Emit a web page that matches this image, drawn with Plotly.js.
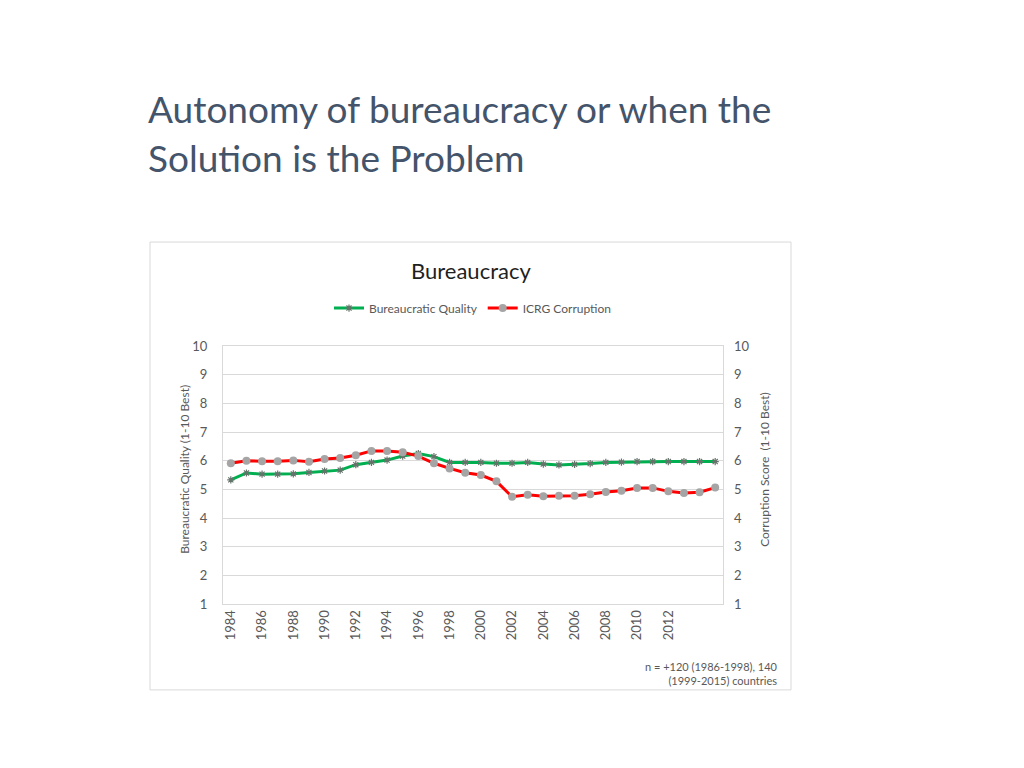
<!DOCTYPE html>
<html>
<head>
<meta charset="utf-8">
<script src="https://cdn.plot.ly/plotly-3.0.1.min.js"></script>
<style>
  body { margin: 0; background: #fff; }
  #chart { width: 1024px; height: 768px; }
</style>
</head>
<body>
<div id="chart"></div>
<script>
var years = [1984, 1985, 1986, 1987, 1988, 1989, 1990, 1991, 1992, 1993, 1994, 1995, 1996, 1997, 1998, 1999,
             2000, 2001, 2002, 2003, 2004, 2005, 2006, 2007, 2008, 2009, 2010, 2011, 2012, 2013, 2014, 2015];

var bureaucratic_quality = [5.33, 5.57, 5.53, 5.53, 5.54, 5.59, 5.64, 5.67, 5.86, 5.94, 6.02, 6.16, 6.25, 6.14, 5.94, 5.94,
                            5.94, 5.91, 5.91, 5.94, 5.88, 5.85, 5.87, 5.90, 5.94, 5.95, 5.97, 5.97, 5.97, 5.97, 5.97, 5.97];

var icrg_corruption = [5.91, 6.00, 5.98, 5.98, 6.01, 5.96, 6.06, 6.09, 6.19, 6.34, 6.34, 6.29, 6.16, 5.91, 5.73, 5.58,
                       5.50, 5.28, 4.74, 4.81, 4.76, 4.78, 4.78, 4.83, 4.91, 4.95, 5.05, 5.05, 4.93, 4.87, 4.90, 5.06];

var tick_years = [1984, 1986, 1988, 1990, 1992, 1994, 1996, 1998, 2000, 2002, 2004, 2006, 2008, 2010, 2012];
var y_ticks = [1, 2, 3, 4, 5, 6, 7, 8, 9, 10];

var font = "Lato, 'Open Sans', sans-serif";

var trace1 = {
    x: years,
    y: bureaucratic_quality,
    name: "Bureaucratic Quality",
    type: "scatter",
    mode: "lines+markers",
    line: {color: '#00B050', width: 3},
    marker: {symbol: 'asterisk-open', size: 6, color: '#66736B', line: {color: '#66736B', width: 1.2}}
};

var trace2 = {
    x: years,
    y: icrg_corruption,
    name: "ICRG Corruption",
    type: "scatter",
    mode: "lines+markers",
    yaxis: "y2",
    line: {color: '#FF0000', width: 3},
    marker: {symbol: 'circle', size: 8, color: '#A5A5A5'}
};

var data = [trace1, trace2];

var layout = {
    width: 1024,
    height: 768,
    margin: {l: 223, r: 301, t: 346, b: 164},
    paper_bgcolor: '#fff',
    plot_bgcolor: '#fff',
    font: {family: font, size: 12, color: '#595959'},
    showlegend: true,
    legend: {
        orientation: 'h', x: 0.5, xanchor: 'center', y: 1.147, yanchor: 'middle',
        font: {size: 12, color: '#595959'}, itemwidth: 30
    },
    xaxis: {
        range: [1983.5, 2015.5],
        tickvals: tick_years,
        ticktext: tick_years.map(String),
        tickangle: -90,
        showgrid: false,
        zeroline: false,
        showline: true,
        mirror: true,
        linecolor: '#D9D9D9',
        ticks: '',
        tickfont: {size: 13, color: '#595959'}
    },
    yaxis: {
        range: [1, 10],
        tickvals: y_ticks,
        gridcolor: '#D9D9D9',
        zeroline: false,
        showline: true,
        mirror: true,
        linecolor: '#D9D9D9',
        ticks: '',
        ticklabelstandoff: 12,
        tickfont: {size: 13, color: '#595959'}
    },
    yaxis2: {
        range: [1, 10],
        tickvals: y_ticks,
        overlaying: 'y',
        side: 'right',
        showgrid: false,
        zeroline: false,
        ticks: '',
        ticklabelstandoff: 10,
        tickfont: {size: 13, color: '#595959'}
    },
    shapes: [
        {type: 'rect', xref: 'paper', yref: 'paper', x0: -0.146, x1: 1.136, y0: -0.333, y1: 1.403,
         line: {color: '#D9D9D9', width: 1}, fillcolor: 'rgba(0,0,0,0)', layer: 'below'}
    ],
    annotations: [
        {text: 'Autonomy of bureaucracy or when the', xref: 'paper', yref: 'paper', x: -0.154, y: 1.922,
         xanchor: 'left', yanchor: 'middle', showarrow: false, font: {size: 37, color: '#44546A', family: font}},
        {text: 'Solution is the Problem', xref: 'paper', yref: 'paper', x: -0.154, y: 1.729,
         xanchor: 'left', yanchor: 'middle', showarrow: false, font: {size: 37, color: '#44546A', family: font}},
        {text: 'Bureaucracy', xref: 'paper', yref: 'paper', x: 0.496, y: 1.291,
         xanchor: 'center', yanchor: 'middle', showarrow: false, font: {size: 22, color: '#1F1F1F', family: font}},
        {text: 'Bureaucratic Quality (1-10 Best)', xref: 'paper', yref: 'paper', x: -0.076, y: 0.52,
         xanchor: 'center', yanchor: 'middle', textangle: -90, showarrow: false, font: {size: 12, color: '#595959'}},
        {text: 'Corruption Score  (1-10 Best)', xref: 'paper', yref: 'paper', x: 1.084, y: 0.52,
         xanchor: 'center', yanchor: 'middle', textangle: -90, showarrow: false, font: {size: 12, color: '#595959'}},
        {text: 'n = +120 (1986-1998), 140<br>(1999-2015) countries', xref: 'paper', yref: 'paper', x: 1.114, y: -0.27,
         xanchor: 'right', yanchor: 'middle', align: 'right', showarrow: false, font: {size: 11, color: '#595959'}}
    ]
};

Plotly.newPlot("chart", data, layout, {displayModeBar: false});
</script>
</body>
</html>
